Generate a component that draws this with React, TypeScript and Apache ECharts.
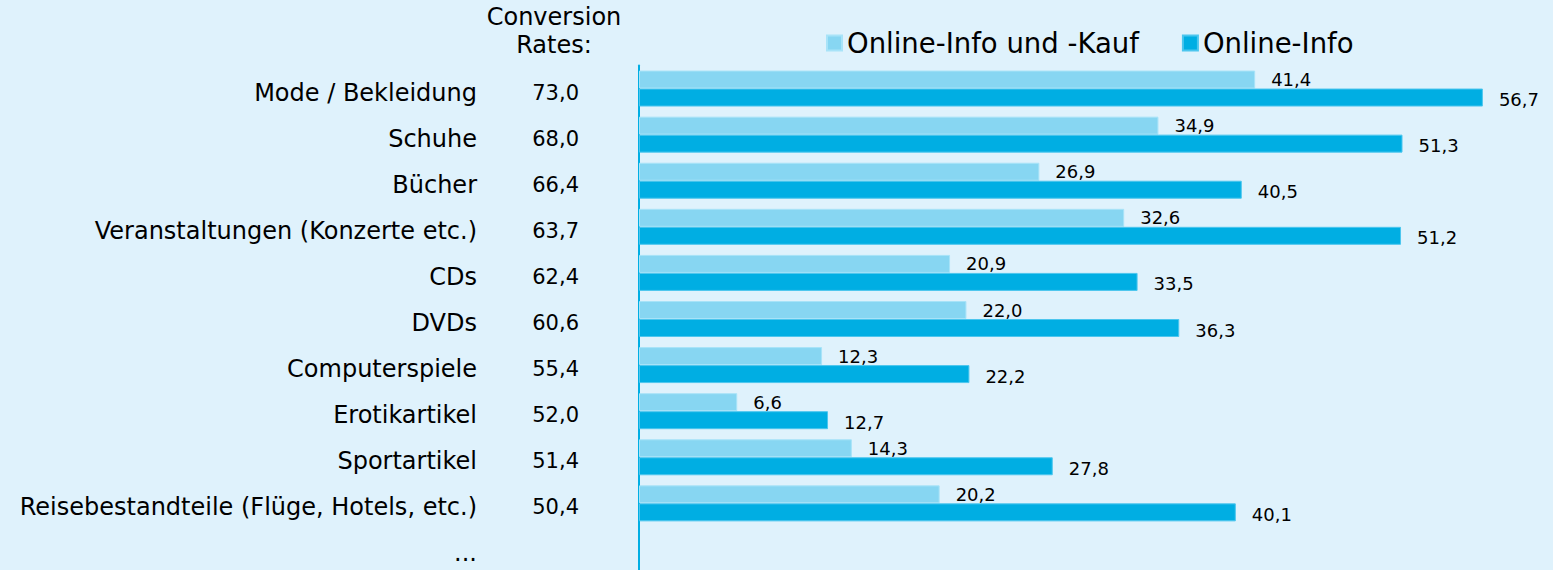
import React, { useEffect, useRef } from "react";
import * as echarts from "echarts";

const categories = [
  "Mode / Bekleidung",
  "Schuhe",
  "Bücher",
  "Veranstaltungen (Konzerte etc.)",
  "CDs",
  "DVDs",
  "Computerspiele",
  "Erotikartikel",
  "Sportartikel",
  "Reisebestandteile (Flüge, Hotels, etc.)",
  "...",
];
const conversionRates = ["73,0", "68,0", "66,4", "63,7", "62,4", "60,6", "55,4", "52,0", "51,4", "50,4", ""];
const infoUndKauf = [41.4, 34.9, 26.9, 32.6, 20.9, 22.0, 12.3, 6.6, 14.3, 20.2, null];
const infoOnly = [56.7, 51.3, 40.5, 51.2, 33.5, 36.3, 22.2, 12.7, 27.8, 40.1, null];
const seriesNames = ["Online-Info und -Kauf", "Online-Info"];

const FONT = "'DejaVu Sans', Verdana, sans-serif";
const LIGHT = "#87d6f2";
const DARK = "#00aee3";

export default function App() {
  const ref = useRef<HTMLDivElement>(null);
  useEffect(() => {
    if (!ref.current) return;
    const chart = echarts.init(ref.current, null, { renderer: "svg" });
    const fmt = (p: any) => (p.value == null ? "" : Number(p.value).toFixed(1).replace(".", ","));
    chart.setOption({
      animation: false,
      backgroundColor: "#dff2fc",
      textStyle: { fontFamily: FONT },
      legend: {
        left: 821,
        top: 24,
        itemWidth: 15,
        itemHeight: 15,
        itemGap: 43,
        icon: "rect",
        textStyle: { fontSize: 27.5, color: "#000", fontFamily: FONT },
        data: seriesNames,
      },
      graphic: [
        {
          type: "text",
          x: 554,
          y: 17,
          style: { text: "Conversion", fontSize: 24, fontFamily: FONT, fill: "#000", textAlign: "center", textVerticalAlign: "middle" },
        },
        {
          type: "text",
          x: 554,
          y: 45,
          style: { text: "Rates:", fontSize: 24, fontFamily: FONT, fill: "#000", textAlign: "center", textVerticalAlign: "middle" },
        },
      ],
      grid: { left: 639, right: 21, top: 65.5, height: 507, containLabel: false, outerBoundsMode: "none" },
      xAxis: { type: "value", min: 0, max: 60, show: false },
      yAxis: [
        {
          type: "category",
          inverse: true,
          data: categories,
          axisLine: { show: true, lineStyle: { color: DARK, width: 2 } },
          axisTick: { show: false },
          splitLine: { show: false },
          axisLabel: {
            margin: 162,
            formatter: (v: string) => `{a|${v}}`,
            rich: { a: { fontSize: 24, color: "#000", fontFamily: FONT, lineHeight: 32, verticalAlign: "bottom" } },
          },
        },
        {
          type: "category",
          inverse: true,
          position: "left",
          data: conversionRates,
          axisLine: { show: false },
          axisTick: { show: false },
          splitLine: { show: false },
          axisLabel: {
            margin: 60,
            formatter: (v: string) => `{a|${v}}`,
            rich: { a: { fontSize: 21, color: "#000", fontFamily: FONT, lineHeight: 29, verticalAlign: "bottom" } },
          },
        },
      ],
      series: [
        {
          name: seriesNames[0],
          type: "bar",
          yAxisIndex: 0,
          data: infoUndKauf,
          barWidth: 18,
          barGap: "0%",
          itemStyle: { color: LIGHT, borderColor: "#a8e3f8", borderWidth: 1 },
          label: { show: true, position: "right", distance: 16, fontSize: 18, color: "#000", fontFamily: FONT, formatter: fmt },
        },
        {
          name: seriesNames[1],
          type: "bar",
          yAxisIndex: 0,
          data: infoOnly,
          barWidth: 18,
          barGap: "0%",
          itemStyle: { color: DARK, borderColor: "#4cc6ee", borderWidth: 1 },
          label: { show: true, position: "right", distance: 16, offset: [0, 2], fontSize: 18, color: "#000", fontFamily: FONT, formatter: fmt },
        },
      ],
    });
    return () => chart.dispose();
  }, []);
  return <div ref={ref} style={{ position: "fixed", left: 0, top: 0, width: 1553, height: 570 }} />;
}
